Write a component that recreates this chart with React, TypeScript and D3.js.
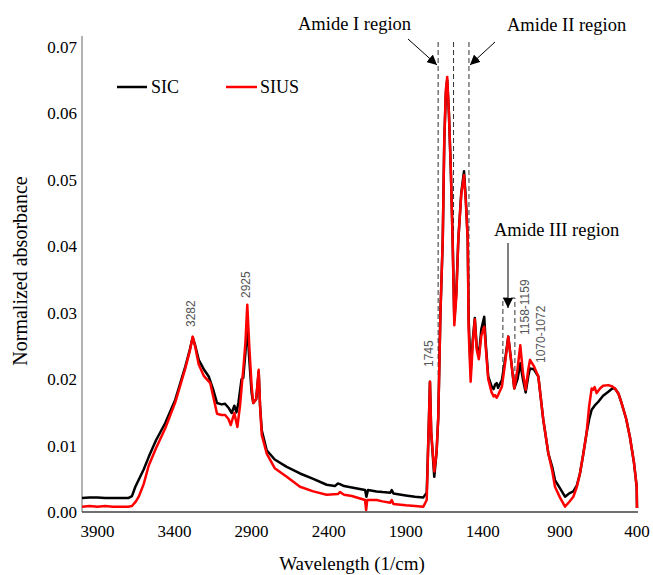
import React from "react";
import * as d3 from "d3";

const sicWn = [4000,3950,3900,3850,3800,3750,3700,3676,3654,3600,3567,3520,3460,3395,3330,3300,3282,3265,3243,3210,3178,3150,3124,3095,3072,3050,3029,3012,2998,2985,2965,2954,2940,2928,2915,2900,2889,2870,2854,2845,2834,2802,2750,2672,2586,2500,2413,2360,2340,2327,2300,2250,2164,2155,2145,2089,2050,2000,1991,1980,1900,1840,1786,1764,1752,1743,1735,1715,1700,1689,1675,1660,1650,1640,1631,1620,1607,1596,1585,1572,1559,1540,1522,1510,1498,1492,1479,1465,1452,1440,1426,1410,1391,1380,1365,1343,1330,1320,1310,1301,1276,1255,1235,1215,1196,1175,1157,1140,1122,1105,1094,1070,1040,1008,975,950,932,900,867,840,813,790,770,750,727,710,694,675,651,620,586,560,543,520,500,470,446,420,402,400];
const sicAbs = [0.0021,0.0022,0.0022,0.0021,0.0021,0.0021,0.0021,0.0024,0.0038,0.0064,0.0083,0.0108,0.0134,0.0169,0.0219,0.0245,0.0263,0.0250,0.0229,0.0215,0.0204,0.0185,0.0164,0.0162,0.0163,0.0157,0.0149,0.0160,0.0150,0.0165,0.0200,0.0202,0.0240,0.0280,0.0230,0.0180,0.0164,0.0170,0.0211,0.0160,0.0123,0.0093,0.0079,0.0068,0.0058,0.0050,0.0041,0.0039,0.0043,0.0042,0.0039,0.0037,0.0033,0.0023,0.0033,0.0031,0.0030,0.0029,0.0033,0.0028,0.0025,0.0023,0.0022,0.0029,0.0120,0.0196,0.0120,0.0053,0.0090,0.0143,0.0300,0.0410,0.0560,0.0630,0.0650,0.0600,0.0510,0.0410,0.0289,0.0330,0.0410,0.0480,0.0513,0.0470,0.0410,0.0290,0.0210,0.0260,0.0292,0.0250,0.0234,0.0275,0.0294,0.0250,0.0204,0.0189,0.0185,0.0192,0.0194,0.0187,0.0199,0.0230,0.0264,0.0225,0.0186,0.0200,0.0224,0.0200,0.0180,0.0205,0.0216,0.0215,0.0204,0.0139,0.0088,0.0068,0.0048,0.0036,0.0023,0.0028,0.0031,0.0040,0.0058,0.0085,0.0119,0.0140,0.0154,0.0160,0.0166,0.0175,0.0181,0.0186,0.0186,0.0178,0.0164,0.0140,0.0113,0.0075,0.0038,0.0006];

const siusWn = [4000,3950,3900,3850,3800,3750,3700,3676,3650,3632,3600,3567,3520,3460,3395,3330,3300,3282,3265,3243,3210,3168,3150,3124,3095,3072,3050,3035,3012,2992,2975,2960,2954,2940,2928,2915,2900,2889,2870,2854,2845,2834,2802,2750,2672,2586,2500,2413,2340,2327,2300,2250,2164,2157,2150,2089,2050,2000,1991,1980,1900,1840,1786,1764,1752,1743,1735,1715,1700,1689,1675,1660,1650,1640,1631,1620,1607,1596,1585,1572,1559,1540,1522,1510,1498,1492,1479,1465,1452,1440,1426,1410,1391,1380,1365,1343,1330,1321,1310,1301,1276,1255,1235,1215,1196,1175,1157,1140,1122,1105,1094,1070,1040,1008,975,950,932,900,867,840,813,790,770,750,727,710,694,684,675,662,640,620,586,560,543,520,500,470,446,420,402,400];
const siusAbs = [0.0008,0.0009,0.0008,0.0009,0.0008,0.0008,0.0008,0.0009,0.0016,0.0023,0.0042,0.0070,0.0096,0.0126,0.0165,0.0216,0.0243,0.0264,0.0248,0.0222,0.0205,0.0194,0.0175,0.0148,0.0146,0.0146,0.0140,0.0131,0.0149,0.0128,0.0160,0.0200,0.0214,0.0255,0.0312,0.0250,0.0190,0.0164,0.0170,0.0214,0.0160,0.0116,0.0088,0.0066,0.0053,0.0038,0.0031,0.0026,0.0027,0.0030,0.0026,0.0024,0.0018,0.0003,0.0018,0.0018,0.0016,0.0014,0.0018,0.0012,0.0010,0.0009,0.0008,0.0018,0.0120,0.0196,0.0120,0.0061,0.0090,0.0143,0.0300,0.0410,0.0560,0.0635,0.0655,0.0600,0.0510,0.0410,0.0281,0.0325,0.0410,0.0478,0.0507,0.0465,0.0410,0.0274,0.0196,0.0255,0.0290,0.0245,0.0230,0.0265,0.0279,0.0245,0.0200,0.0180,0.0174,0.0176,0.0172,0.0176,0.0189,0.0225,0.0264,0.0225,0.0186,0.0215,0.0251,0.0210,0.0184,0.0215,0.0229,0.0220,0.0204,0.0139,0.0088,0.0062,0.0038,0.0022,0.0008,0.0015,0.0023,0.0038,0.0058,0.0085,0.0119,0.0160,0.0186,0.0184,0.0188,0.0179,0.0186,0.0190,0.0191,0.0189,0.0186,0.0178,0.0164,0.0140,0.0113,0.0075,0.0038,0.0006];

const xTicks = [3900, 3400, 2900, 2400, 1900, 1400, 900, 400];
const yTicks = [0, 0.01, 0.02, 0.03, 0.04, 0.05, 0.06, 0.07];
const seriesNames = ["SIC", "SIUS"];
const seriesColors = ["#000000", "#ff0000"];
const peakLabels = ["3282", "2925", "1745", "1158-1159", "1070-1072"];
const peakLabelWn = [3268, 2910, 1722, 1100, 997];
const peakLabelBottoms = [327, 298, 367, 335, 363];

const SERIF = "'Liberation Serif', 'Times New Roman', serif";
const SANS = "'Liberation Sans', Arial, sans-serif";

export default function App() {
  const x = d3.scaleLinear().domain([4000, 400]).range([82, 637]);
  const y = d3.scaleLinear().domain([0, 0.07]).range([512, 47]);

  const mk = (wn: number[], ab: number[]) =>
    d3.line<number>().x((_, i) => x(wn[i])).y((_, i) => y(ab[i]))(wn) || "";

  const sicPath = mk(sicWn, sicAbs);
  const siusPath = mk(siusWn, siusAbs);

  return (
    <svg
      width={653}
      height={575}
      style={{ position: "absolute", left: 0, top: 0, background: "#fff", display: "block" }}
    >
      <defs>
        <marker id="ah" viewBox="0 0 10 10" refX="10" refY="5" markerWidth="10" markerHeight="10" markerUnits="userSpaceOnUse" orient="auto">
          <path d="M0,0 L10,5 L0,10 Z" fill="#000" />
        </marker>
      </defs>
      <rect x={0} y={0} width={653} height={575} fill="#fff" />

      {/* axes */}
      <line x1={82} x2={82} y1={36} y2={512} stroke="#808080" strokeWidth={1.2} />
      <line x1={82} x2={638} y1={512} y2={512} stroke="#404040" strokeWidth={1.5} />

      {yTicks.map((t) => (
        <text key={t} x={77} y={y(t)} dy="0.35em" textAnchor="end" fontFamily={SERIF} fontSize={17} fill="#000">
          {t.toFixed(2)}
        </text>
      ))}
      {xTicks.map((t) => (
        <text key={t} x={x(t)} y={537} textAnchor="middle" fontFamily={SERIF} fontSize={17} fill="#000">
          {t}
        </text>
      ))}

      <text transform="translate(27,271) rotate(-90)" textAnchor="middle" fontFamily={SERIF} fontSize={20} fill="#000">
        Normalized absorbance
      </text>
      <text x={352} y={570} textAnchor="middle" fontFamily={SERIF} fontSize={19} fill="#000">
        Wavelength (1/cm)
      </text>

      {/* dashed region lines */}
      <g stroke="#333" strokeWidth={1} strokeDasharray="5,3" fill="none">
        <line x1={x(1690)} x2={x(1690)} y1={42} y2={375} />
        <line x1={x(1590)} x2={x(1590)} y1={42} y2={305} />
        <line x1={x(1490)} x2={x(1490)} y1={42} y2={330} />
        <polyline points={`${x(1270)},370 ${x(1270)},298 ${x(1192)},298 ${x(1192)},380`} />
      </g>

      {/* spectra */}
      <path d={sicPath} fill="none" stroke={seriesColors[0]} strokeWidth={2.5} strokeLinejoin="round" />
      <path d={siusPath} fill="none" stroke={seriesColors[1]} strokeWidth={2.5} strokeLinejoin="round" />

      {/* legend */}
      <line x1={117} x2={147} y1={87} y2={87} stroke={seriesColors[0]} strokeWidth={2.5} />
      <text x={151} y={93} fontFamily={SERIF} fontSize={18} fill="#000">{seriesNames[0]}</text>
      <line x1={226} x2={257} y1={87} y2={87} stroke={seriesColors[1]} strokeWidth={2.5} />
      <text x={260} y={93} fontFamily={SERIF} fontSize={18} fill="#000">{seriesNames[1]}</text>

      {/* peak labels */}
      {peakLabels.map((p, i) => (
        <text
          key={p}
          transform={`translate(${x(peakLabelWn[i])},${peakLabelBottoms[i]}) rotate(-90)`}
          fontFamily={SANS}
          fontSize={12}
          fill="#555"
        >
          {p}
        </text>
      ))}

      {/* annotations */}
      <text x={298} y={30} fontFamily={SERIF} fontSize={18.5} fill="#000">Amide I region</text>
      <text x={507} y={31} fontFamily={SERIF} fontSize={18.5} fill="#000">Amide II region</text>
      <text x={494} y={236} fontFamily={SERIF} fontSize={18.5} fill="#000">Amide III region</text>

      <line x1={408} y1={39} x2={437} y2={65} stroke="#000" strokeWidth={1} markerEnd="url(#ah)" />
      <line x1={495} y1={42} x2={470} y2={65} stroke="#000" strokeWidth={1} markerEnd="url(#ah)" />
      <line x1={508} y1={243} x2={508} y2={308} stroke="#000" strokeWidth={1} markerEnd="url(#ah)" />
    </svg>
  );
}
